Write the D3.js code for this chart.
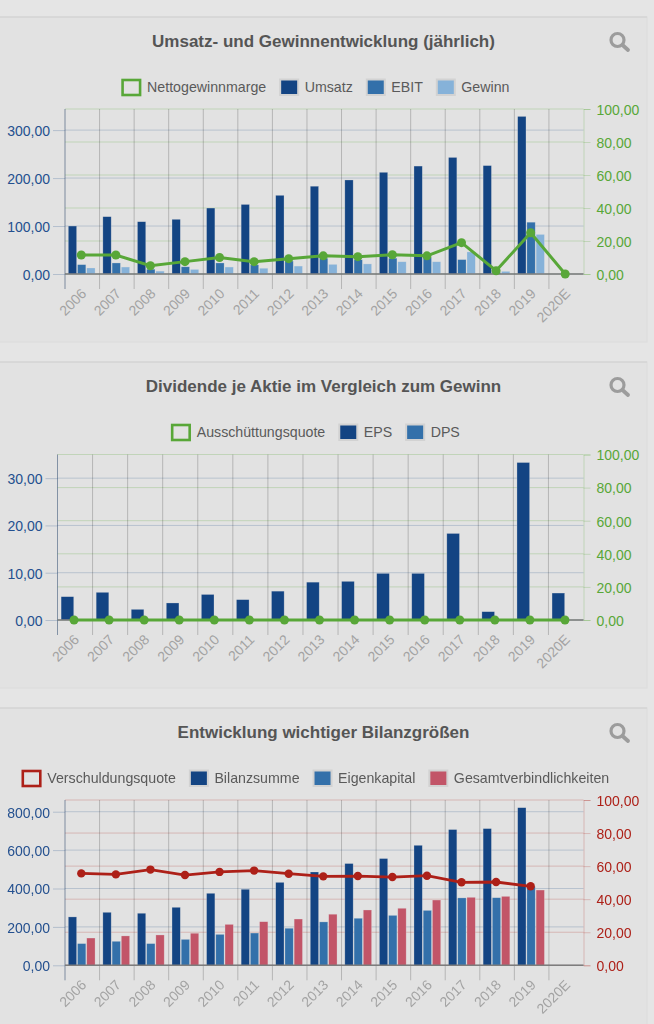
<!DOCTYPE html>
<html><head><meta charset="utf-8">
<script src="https://cdn.jsdelivr.net/npm/d3@7"></script>
<style>
html,body{margin:0;padding:0;background:#e5e5e5;overflow:hidden}
svg{display:block;filter:blur(0.45px)}
text{font-family:"Liberation Sans",Arial,sans-serif}
</style></head><body>
<svg id="c" width="654" height="1024"></svg>
<script>
const years = ["2006","2007","2008","2009","2010","2011","2012","2013","2014","2015","2016","2017","2018","2019","2020E"];

const umsatz = [100,119.5,109,114,137.5,145,164,183,196,212,225,243,226,328.5,null];
const ebit = [19.5,23,10,15,23,19,27,33,30,33,35,30,3,108,null];
const gewinn = [12.5,14.5,6,9.5,14.5,12,16.5,20,21,25.5,25.5,46,5.5,82.5,null];
const nettomarge = [11.5,11.5,5,7.5,10,7.5,9.3,11,10.5,11.7,11,19,2,25,0];

const eps = [4.93,5.85,2.25,3.6,5.4,4.3,6.1,8,8.17,9.86,9.86,18.3,1.76,33.3,5.7];
const dps = [0,0,0,0,0,0,0,0,0,0,0,0,0,0,0];
const ausschuettung = [0,0,0,0,0,0,0,0,0,0,0,0,0,0,0];

const bilanzsumme = [252,276,271,302,375,396,432,486,530,556,625,707,712,821,null];
const eigenkapital = [113,125,113,135,161,168,193,226,245,260,286,351,352,410,null];
const verbindlichkeiten = [142,153,158,167,213,227,241,266,288,297,340,354,359,392,null];
const verschuldung = [55.6,55,57.9,54.6,56.5,57.3,55.4,53.8,54,53.4,54.2,50.2,50.4,47.8,null];

const ticks1 = [0,100,200,300];
const ticks2 = [0,10,20,30];
const ticks3 = [0,200,400,600,800];
const ticksRight = [0,20,40,60,80,100];

const NAVY="#134483", MID="#3370aa", LIGHT="#86b2d9", ROSE="#c25568", GREEN="#58a738", RED="#ad2018";

const charts = [
 {title:"Umsatz- und Gewinnentwicklung (jährlich)", top:17, bottom:342, left:65, right:583.5, y0:274, y1:109, max:344, ticks:ticks1,
  lineName:"Nettogewinnmarge", line:nettomarge, lineColor:GREEN, r:4.5, gridR:"rgba(88,167,56,.24)",
  bars:[["Umsatz",umsatz,NAVY],["EBIT",ebit,MID],["Gewinn",gewinn,LIGHT]]},
 {title:"Dividende je Aktie im Vergleich zum Gewinn", top:362, bottom:688, left:57.5, right:583.5, y0:620, y1:454.5, max:35, ticks:ticks2,
  lineName:"Ausschüttungsquote", line:ausschuettung, lineColor:GREEN, r:4.5, gridR:"rgba(88,167,56,.24)",
  bars:[["EPS",eps,NAVY],["DPS",dps,MID]]},
 {title:"Entwicklung wichtiger Bilanzgrößen", top:708, bottom:1040, left:65, right:583.5, y0:965.3, y1:800, max:861, ticks:ticks3,
  lineName:"Verschuldungsquote", line:verschuldung, lineColor:RED, r:4.2, gridR:"rgba(173,32,24,.22)",
  bars:[["Bilanzsumme",bilanzsumme,NAVY],["Eigenkapital",eigenkapital,MID],["Gesamtverbindlichkeiten",verbindlichkeiten,ROSE]]}
];

const svg = d3.select("#c");
const fmt = v => d3.format(".2f")(v).replace(".",",");

charts.forEach(ch=>{
  const g = svg.append("g");
  // panel
  g.append("rect").attr("x",-4).attr("y",ch.top).attr("width",651).attr("height",ch.bottom-ch.top)
    .attr("fill","#e2e2e2").attr("stroke","#dcdcdc");
  g.append("line").attr("x1",0).attr("x2",647).attr("y1",ch.top).attr("y2",ch.top).attr("stroke","#cfcfcf").attr("stroke-width",1.2);

  // title
  g.append("text").attr("x",323.5).attr("y",ch.top+30).attr("text-anchor","middle")
    .attr("font-size",17).attr("font-weight","bold").attr("fill","#555").text(ch.title);

  // search icon
  const ic = g.append("g").attr("fill","none").attr("stroke","#9c9c9c").attr("stroke-width",3.2);
  ic.append("circle").attr("cx",617.5).attr("cy",ch.top+23).attr("r",6.5);
  ic.append("line").attr("x1",622.5).attr("y1",ch.top+28).attr("x2",628).attr("y2",ch.top+33).attr("stroke-linecap","round").attr("stroke-width",3.8);

  // scales
  const x = d3.scaleBand().domain(years).range([ch.left,ch.right]);
  const names = ch.bars.map(b=>b[0]);
  const inner = d3.scaleBand().domain(names).range([x.bandwidth()*.1-.6,x.bandwidth()*.9-.6]).paddingInner(.1).paddingOuter(.05);
  const yL = d3.scaleLinear().domain([0,ch.max]).range([ch.y0,ch.y1]);
  const yR = d3.scaleLinear().domain([0,100]).range([ch.y0,ch.y1]);
  const isRed = ch.lineColor===RED;

  // right axis + its grid
  const axR = g.append("g").attr("transform",`translate(${ch.right},0)`)
    .call(d3.axisRight(yR).tickValues(ticksRight).tickFormat(fmt).tickSize(7).tickPadding(6));
  axR.select(".domain").attr("stroke",ch.gridR);
  axR.selectAll("line").attr("stroke",ch.gridR).attr("stroke-width",1);
  axR.selectAll("text").attr("fill",ch.lineColor).attr("font-size",14).attr("dy","0.38em");
  g.append("g").selectAll("line").data(ticksRight).join("line")
    .attr("x1",ch.left).attr("x2",ch.right).attr("y1",d=>yR(d)).attr("y2",d=>yR(d))
    .attr("stroke",ch.gridR).attr("stroke-width",1);

  // left axis + its grid
  const axL = g.append("g").attr("transform",`translate(${ch.left},0)`)
    .call(d3.axisLeft(yL).tickValues(ch.ticks).tickFormat(fmt).tickSize(12).tickPadding(3));
  axL.select(".domain").remove();
  axL.selectAll("line").attr("stroke","rgba(19,68,131,.22)");
  axL.selectAll("text").attr("fill","#24508f").attr("font-size",14).attr("dy","0.38em");
  g.append("g").selectAll("line").data(ch.ticks).join("line")
    .attr("x1",ch.left).attr("x2",ch.right).attr("y1",d=>yL(d)).attr("y2",d=>yL(d))
    .attr("stroke","rgba(19,68,131,.2)").attr("stroke-width",1);

  // vertical grid (one per category edge)
  g.append("g").selectAll("line").data(years).join("line")
    .attr("x1",d=>x(d)).attr("x2",d=>x(d))
    .attr("y1",ch.y1).attr("y2",ch.y0+15)
    .attr("stroke","rgba(0,0,0,.2)").attr("stroke-width",1);
  g.append("line").attr("x1",ch.left).attr("x2",ch.left).attr("y1",ch.y1).attr("y2",ch.y0+15)
    .attr("stroke","rgba(19,68,131,.3)");

  // x labels
  const axX = g.append("g").attr("transform",`translate(0,${ch.y0})`)
    .call(d3.axisBottom(x).tickSize(0).tickPadding(0));
  axX.select(".domain").remove();
  axX.selectAll("text").attr("fill","#a3a3a3").attr("font-size",14).attr("text-anchor","end")
    .attr("dy",0).attr("y",0)
    .attr("transform","translate(5,20.5) rotate(-45)");

  // bars
  ch.bars.forEach(([name,vals,col])=>{
    g.append("g").selectAll("rect").data(vals.map((v,i)=>({v,y:years[i]})).filter(d=>d.v!==null && d.v>0)).join("rect")
      .attr("x",d=>x(d.y)+inner(name)).attr("width",inner.bandwidth())
      .attr("y",d=>yL(d.v)).attr("height",d=>ch.y0-yL(d.v))
      .attr("fill",col).attr("stroke","rgba(225,225,225,.45)").attr("stroke-width",.6);
  });

  // zero line
  g.append("line").attr("x1",ch.left).attr("x2",ch.right).attr("y1",ch.y0).attr("y2",ch.y0)
    .attr("stroke","#7d7d7d").attr("stroke-width",1.4);

  // line series
  const pts = ch.line.map((v,i)=>({v,y:years[i]})).filter(d=>d.v!==null);
  const lg = d3.line().x(d=>x(d.y)+x.bandwidth()/2-1).y(d=>yR(d.v));
  g.append("path").datum(pts).attr("d",lg).attr("fill","none").attr("stroke",ch.lineColor).attr("stroke-width",isRed?2.8:3);
  g.append("g").selectAll("circle").data(pts).join("circle")
    .attr("cx",d=>x(d.y)+x.bandwidth()/2-1).attr("cy",d=>yR(d.v)).attr("r",ch.r).attr("fill",ch.lineColor);

  // legend: measured then centred
  const items = [{n:ch.lineName,c:ch.lineColor,hollow:true}].concat(ch.bars.map(b=>({n:b[0],c:b[2]})));
  const ly = ch.top+70;
  const lgG = g.append("g");
  let cx = 0;
  items.forEach(it=>{
    const ig = lgG.append("g").attr("transform",`translate(${cx},0)`);
    if(it.hollow){
      ig.append("rect").attr("x",1).attr("y",ly-7).attr("width",17.5).attr("height",15)
        .attr("fill","none").attr("stroke",it.c).attr("stroke-width",2.6);
    } else {
      ig.append("rect").attr("x",0).attr("y",ly-8.5).attr("width",20).attr("height",17.5).attr("fill","#d2d2d2");
      ig.append("rect").attr("x",2).attr("y",ly-6.5).attr("width",16).attr("height",13.5).attr("fill",it.c);
    }
    const t = ig.append("text").attr("x",25.5).attr("y",ly+5.2).attr("font-size",14.2).attr("fill","#5a5a5a").text(it.n);
    cx += 25.5 + t.node().getComputedTextLength() + 13;
  });
  lgG.attr("transform",`translate(${315.5-(cx-13)/2},0)`);
});
</script>
</body></html>
